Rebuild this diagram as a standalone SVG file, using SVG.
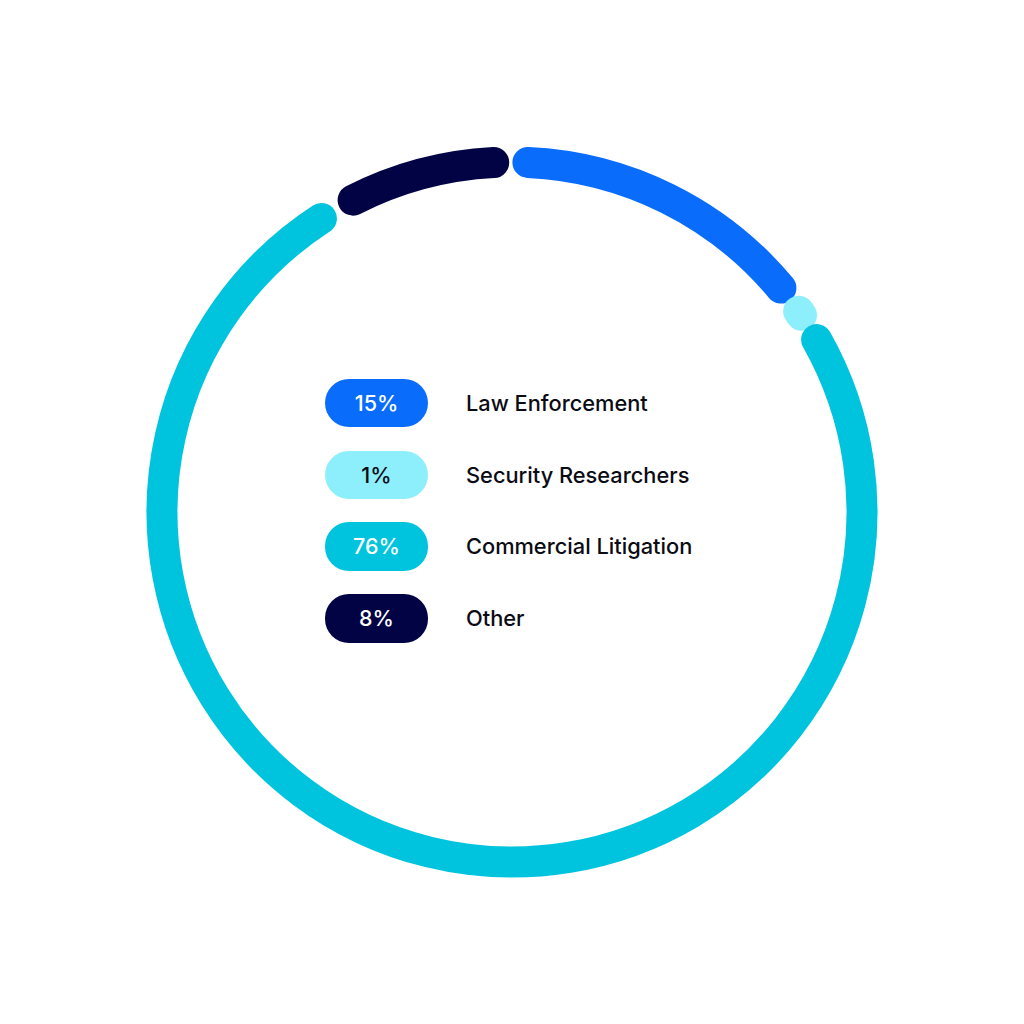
<svg xmlns="http://www.w3.org/2000/svg" width="1024" height="1024" viewBox="0 0 1024 1024">
<style>
.seg{fill:none;stroke-linecap:round;stroke-width:31}
.pill{stroke:none}
.pct{font-family:Inter,"Liberation Sans",sans-serif;font-size:21.5px;font-weight:500;text-anchor:middle}
.lbl{font-family:Inter,"Liberation Sans",sans-serif;font-size:21.8px;font-weight:500;fill:#0b0b14}
</style>
<rect width="1024" height="1024" fill="#ffffff"/>
<g id="ring">
<path id="seg-law" class="seg" stroke="#0A6CFA" d="M527.9 162.4 A350 350 0 0 1 780.9 288"/>
<path id="seg-sec" class="seg" stroke="#8DEEFC" stroke-width="20" d="M798.7 311.25 A350 350 0 0 1 801.5 315.3"/>
<path id="seg-com" class="seg" stroke="#00C4DE" d="M816.6 339.65 A350 350 0 1 1 321.4 218.5"/>
<path id="seg-oth" class="seg" stroke="#020344" d="M353.1 200.1 A350 350 0 0 1 493.7 162.5"/>
</g>
<g id="legend-law">
<rect class="pill" x="325" y="379" width="103" height="48" rx="24" fill="#0A6CFA"/>
<text class="pct" x="376.5" y="411" fill="#ffffff">15%</text>
<text class="lbl" x="466" y="411">Law Enforcement</text>
</g>
<g id="legend-sec">
<rect class="pill" x="325" y="451" width="103" height="48" rx="24" fill="#8DEEFC"/>
<text class="pct" x="376.5" y="483" fill="#0b0b14">1%</text>
<text class="lbl" x="466" y="483">Security Researchers</text>
</g>
<g id="legend-com">
<rect class="pill" x="325" y="522" width="103" height="49" rx="24" fill="#00C4DE"/>
<text class="pct" x="376.5" y="554" fill="#ffffff">76%</text>
<text class="lbl" x="466" y="554">Commercial Litigation</text>
</g>
<g id="legend-oth">
<rect class="pill" x="325" y="594" width="103" height="49" rx="24" fill="#020344"/>
<text class="pct" x="376.5" y="626" fill="#ffffff">8%</text>
<text class="lbl" x="466" y="626">Other</text>
</g>
</svg>
